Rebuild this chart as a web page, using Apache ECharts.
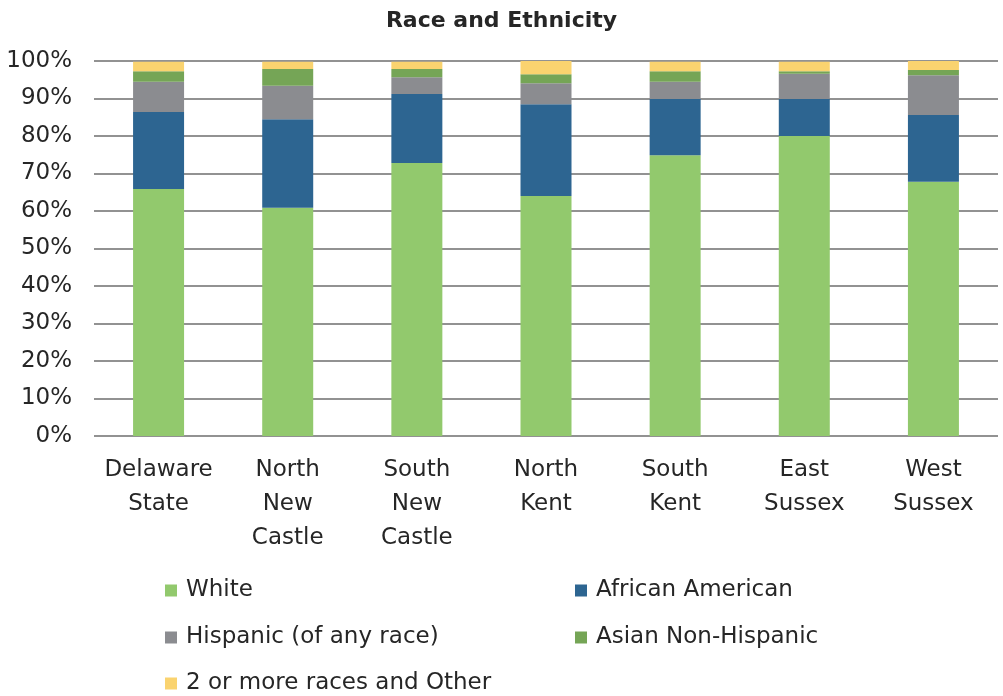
<!DOCTYPE html>
<html>
<head>
<meta charset="utf-8">
<script src="https://cdn.jsdelivr.net/npm/echarts@6/dist/echarts.min.js"></script>
<style>
  html, body { margin: 0; padding: 0; background: #fff; }
  #chart { width: 1003px; height: 696px; }
</style>
</head>
<body>
<div id="chart"></div>
<script>
// categories and values (percent of population)
var regions = ['Delaware\nState', 'North\nNew\nCastle', 'South\nNew\nCastle', 'North\nKent', 'South\nKent', 'East\nSussex', 'West\nSussex'];
var white    = [65.9, 60.9, 72.8, 64.0, 74.9, 80.0, 67.8];
var african  = [20.5, 23.6, 18.4, 24.5, 15.0,  9.9, 17.8];
var hispanic = [ 8.1,  8.9,  4.5,  5.6,  4.6,  6.7, 10.6];
var asian    = [ 2.8,  4.5,  2.2,  2.4,  2.8,  0.7,  1.4];
var other    = [ 2.5,  1.9,  1.9,  3.5,  2.5,  2.5,  2.4];

var names  = ['White', 'African American', 'Hispanic (of any race)', 'Asian Non-Hispanic', '2 or more races and Other'];
var colors = ['#92c96d', '#2d6591', '#8b8c90', '#75a556', '#fad36f'];
var values = [white, african, hispanic, asian, other];

var font = 'DejaVu Sans';
var textColor = '#262626';

// legend laid out in two columns like the original
var legendPos = [[160, 574], [570, 574], [160, 621], [570, 621], [160, 667]];
var legends = names.map(function (n, i) {
  return {
    data: [n],
    left: legendPos[i][0],
    top: legendPos[i][1],
    itemWidth: 12,
    itemHeight: 12,
    icon: 'rect',
    textStyle: { fontFamily: font, fontSize: 23, color: textColor, padding: [0, 0, 0, 4] }
  };
});

var chart = echarts.init(document.getElementById('chart'));
chart.setOption({
  animation: false,
  color: colors,
  title: {
    text: 'Race and Ethnicity',
    left: 'center',
    top: 5,
    textStyle: { fontFamily: font, fontSize: 22, fontWeight: 'bold', color: textColor }
  },
  legend: legends,
  grid: { left: 94, right: 5, top: 61, bottom: 260 },
  xAxis: {
    type: 'category',
    data: regions,
    axisLine: { show: false },
    axisTick: { show: false },
    axisLabel: { fontFamily: font, fontSize: 23, color: textColor, lineHeight: 34, margin: 17, interval: 0 }
  },
  yAxis: {
    type: 'value',
    min: 0,
    max: 100,
    interval: 10,
    axisLabel: { formatter: '{value}%', fontFamily: font, fontSize: 23, color: textColor, margin: 22 },
    axisLine: { show: false },
    axisTick: { show: false },
    splitLine: { lineStyle: { color: '#6e6e6e', width: 1.5 } }
  },
  series: values.map(function (v, i) {
    return {
      name: names[i],
      type: 'bar',
      stack: 'total',
      barWidth: 51,
      data: v
    };
  })
});
</script>
</body>
</html>
